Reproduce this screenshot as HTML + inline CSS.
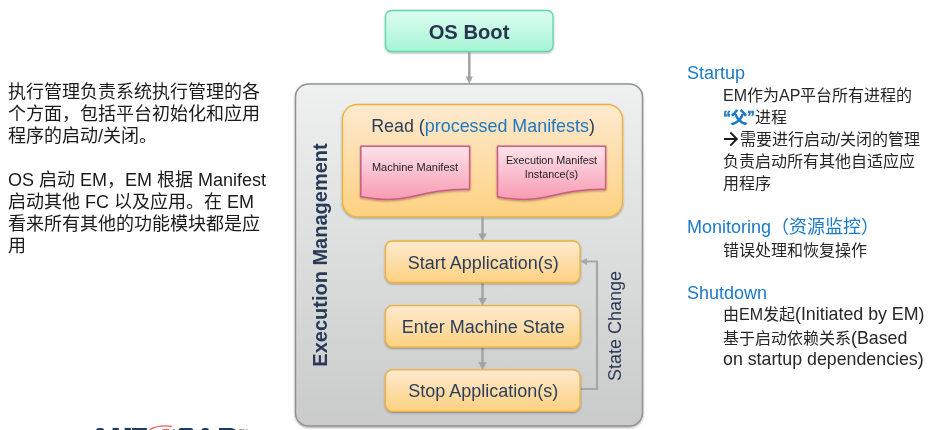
<!DOCTYPE html>
<html lang="zh-CN"><head><meta charset="utf-8">
<style>
html,body{margin:0;padding:0;background:#fff;}
body{width:936px;height:430px;position:relative;overflow:hidden;font-family:"Liberation Sans",sans-serif;}
.t{position:absolute;white-space:nowrap;}
.lp,.rp,.hd,.box,.t{will-change:transform;}
#dg{position:absolute;left:0;top:0;}
.lp{position:absolute;left:8px;color:#1a1a1a;font-size:18px;line-height:21.9px;white-space:nowrap;}
.rp{position:absolute;left:723px;color:#262626;font-size:16px;line-height:21.5px;white-space:nowrap;}
.hd{position:absolute;left:686px;color:#1c7ac7;font-size:18px;white-space:nowrap;}
.arr{display:inline-block;width:16.5px;height:16px;vertical-align:-2px;}
.arr svg{display:block;}
.big{font-size:17.8px;}
.box{position:absolute;color:#2c3d5a;font-size:18px;text-align:center;white-space:nowrap;}
</style></head>
<body>
<svg id="dg" width="936" height="430" viewBox="0 0 936 430">
<defs>
<linearGradient id="gGreen" x1="0" y1="0" x2="0" y2="1"><stop offset="0" stop-color="#ddfdf0"/><stop offset="1" stop-color="#a6f5d5"/></linearGradient>
<linearGradient id="gGray" x1="0" y1="0" x2="0" y2="1"><stop offset="0" stop-color="#eff0f0"/><stop offset="1" stop-color="#c9caca"/></linearGradient>
<linearGradient id="gOr" x1="0" y1="0" x2="0" y2="1"><stop offset="0" stop-color="#feead0"/><stop offset="1" stop-color="#fdd180"/></linearGradient>
<linearGradient id="gPink" x1="0" y1="0" x2="0" y2="1"><stop offset="0" stop-color="#fde3ea"/><stop offset="1" stop-color="#f89bb3"/></linearGradient>
<filter id="sh" x="-10%" y="-10%" width="120%" height="130%"><feGaussianBlur in="SourceAlpha" stdDeviation="1.2"/><feOffset dx="0" dy="1.2"/><feComponentTransfer><feFuncA type="linear" slope="0.35"/></feComponentTransfer><feMerge><feMergeNode/><feMergeNode in="SourceGraphic"/></feMerge></filter>
</defs>
<!-- logo -->
<g fill="#1d3b5e">
<rect x="96" y="427.9" width="8.2" height="6" rx="3"/>
<rect x="112.6" y="427.9" width="6.2" height="6"/>
<rect x="124.6" y="427.9" width="6.3" height="6"/>
<rect x="132.1" y="428" width="14.8" height="6"/>
<rect x="178.3" y="428" width="15.2" height="6" rx="3"/>
<rect x="201.4" y="428" width="7.8" height="6" rx="3"/>
<path d="M219 428 H231 Q235 428.5 236.5 431 H219 Z"/>
<circle cx="174" cy="430.5" r="1.2"/>
</g>
<path d="M149.5 429.5 Q160 424.5 172 426.5" fill="none" stroke="#e64545" stroke-width="1.3" opacity="0.85"/>
<path d="M162 430 Q166 429 169 429.5" fill="none" stroke="#e64545" stroke-width="1.2" opacity="0.8"/>
<text x="238.4" y="433.5" font-family="Liberation Sans" font-size="6.5" fill="#666">TM</text>
<!-- OS Boot -->
<rect x="385.5" y="10.5" width="167.5" height="41" rx="6" fill="url(#gGreen)" stroke="#60d8aa" stroke-width="1.3" filter="url(#sh)"/>
<line x1="469.3" y1="52" x2="469.3" y2="78" stroke="#a3a3a3" stroke-width="2.5"/>
<path d="M465.8 76.5 L469.3 84 L472.8 76.5 Z" fill="#a3a3a3"/>
<!-- container -->
<rect x="295.5" y="84" width="347" height="342" rx="13" fill="url(#gGray)" stroke="#929292" stroke-width="1.5" filter="url(#sh)"/>
<!-- Read box -->
<rect x="342.5" y="104.5" width="280" height="112.3" rx="15" fill="url(#gOr)" stroke="#f0b03a" stroke-width="1.3" filter="url(#sh)"/>
<!-- docs -->
<path d="M360.8 146.2 H469.6 V189.2 C445 189 430 192 410 197 C393 201 376 199.5 360.8 196.7 Z" fill="url(#gPink)" stroke="#cf5a84" stroke-width="1.5" stroke-linejoin="round" filter="url(#sh)"/>
<path d="M497.5 146.2 H605.6 V189.2 C581 189 566 192 546 197 C529 201 512 199.5 497.5 196.7 Z" fill="url(#gPink)" stroke="#cf5a84" stroke-width="1.5" stroke-linejoin="round" filter="url(#sh)"/>
<!-- connectors -->
<line x1="482.5" y1="216.5" x2="482.5" y2="235" stroke="#a3a3a3" stroke-width="2.4"/>
<path d="M478.2 233.5 L482.5 241 L486.8 233.5 Z" fill="#a3a3a3"/>
<line x1="482.5" y1="283" x2="482.5" y2="299.5" stroke="#a3a3a3" stroke-width="2.4"/>
<path d="M478.2 298 L482.5 305.5 L486.8 298 Z" fill="#a3a3a3"/>
<line x1="482.5" y1="347" x2="482.5" y2="363.5" stroke="#a3a3a3" stroke-width="2.4"/>
<path d="M478.2 362.3 L482.5 369.8 L486.8 362.3 Z" fill="#a3a3a3"/>
<polyline points="580.5,389 597,389 597,261.5 586,261.5" fill="none" stroke="#a6a6a6" stroke-width="2.2"/>
<path d="M587 258 L580.6 261.5 L587 265 Z" fill="#a6a6a6"/>
<!-- process boxes -->
<rect x="385.5" y="241" width="194.5" height="41.5" rx="7" fill="url(#gOr)" stroke="#f0b03a" stroke-width="1.3" filter="url(#sh)"/>
<rect x="385.5" y="305.6" width="194.5" height="41.5" rx="7" fill="url(#gOr)" stroke="#f0b03a" stroke-width="1.3" filter="url(#sh)"/>
<rect x="385.5" y="369.8" width="194.5" height="41.5" rx="7" fill="url(#gOr)" stroke="#f0b03a" stroke-width="1.3" filter="url(#sh)"/>
</svg>

<div class="box" style="left:385px;top:18.5px;width:168px;font-weight:bold;font-size:20.2px;line-height:26px;color:#29344e">OS Boot</div>
<div class="box" style="left:343px;top:114px;width:280px;font-size:17.9px;line-height:24px">Read (<span style="color:#1f77c0">processed Manifests</span>)</div>
<div class="box" style="left:360px;top:161px;width:110px;font-size:11px;line-height:13.6px;color:#222">Machine Manifest</div>
<div class="box" style="left:497px;top:154px;width:109px;font-size:10.8px;line-height:13.6px;color:#222">Execution Manifest<br>Instance(s)</div>
<div class="box" style="left:385.5px;top:249.7px;width:194.5px;line-height:26px">Start Application(s)</div>
<div class="box" style="left:385.5px;top:314px;width:194.5px;line-height:26px">Enter Machine State</div>
<div class="box" style="left:385.5px;top:378.3px;width:194.5px;line-height:26px">Stop Application(s)</div>

<div class="t" style="left:320px;top:254.5px;width:0;height:0;"><div style="position:absolute;left:-112px;top:-12px;width:224px;text-align:center;transform:rotate(-90deg);font-weight:bold;font-size:20px;line-height:24px;color:#283a58">Execution Management</div></div>
<div class="t" style="left:615px;top:326px;width:0;height:0;"><div style="position:absolute;left:-60px;top:-11px;width:120px;text-align:center;transform:rotate(-90deg);font-size:18px;line-height:22px;color:#2d3b55">State Change</div></div>

<div class="lp" style="top:82px">执行管理负责系统执行管理的各<br>个方面，包括平台初始化和应用<br>程序的启动/关闭。</div>
<div class="lp" style="top:170.3px">OS 启动 EM，EM 根据 Manifest<br>启动其他 FC 以及应用。在 EM<br>看来所有其他的功能模块都是应<br>用</div>

<div class="hd" style="top:63px;left:686.5px">Startup</div>
<div class="rp" style="top:85.3px;line-height:22px">EM作为AP平台所有进程的<br><b style="color:#1c7ac7;-webkit-text-stroke:0.5px #1c7ac7">“父”</b>进程<br><span class="arr"><svg width="16" height="16" viewBox="0 0 16 16"><path d="M1 8 H13.8 M7.3 1.4 L13.8 8 L7.3 14.6" fill="none" stroke="#1a1a1a" stroke-width="2"/></svg></span>需要进行启动/关闭的管理<br>负责启动所有其他自适应应<br>用程序</div>
<div class="hd" style="top:212px;left:687px">Monitoring（资源监控）</div>
<div class="rp" style="top:240px">错误处理和恢复操作</div>
<div class="hd" style="top:283px;left:687px">Shutdown</div>
<div class="rp" style="top:303.3px;line-height:22px">由EM发起<span class="big">(Initiated by EM)</span></div>
<div class="rp" style="top:327.2px;line-height:22px">基于启动依赖关系<span class="big">(Based</span></div>
<div class="rp" style="top:348.3px;line-height:22px"><span class="big">on startup dependencies)</span></div>
</body></html>
